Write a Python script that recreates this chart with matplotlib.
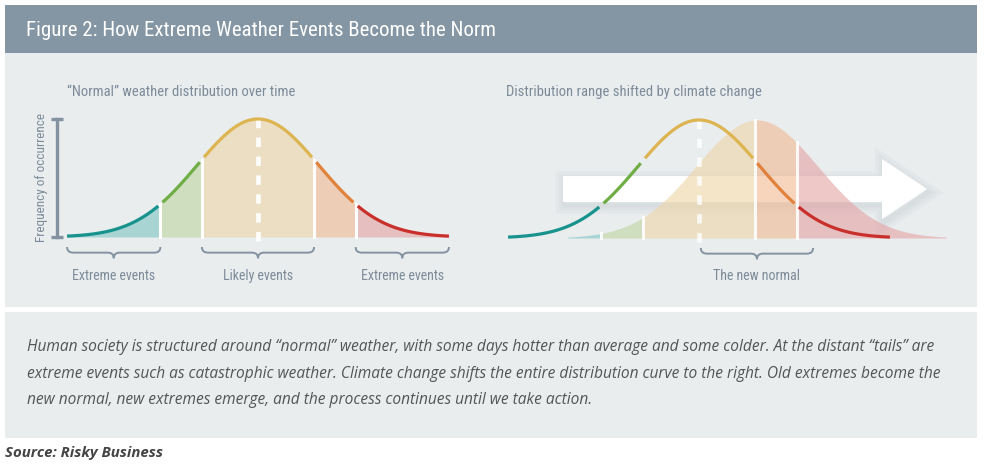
import numpy as np
import matplotlib
matplotlib.use('Agg')
import matplotlib.pyplot as plt
from matplotlib import font_manager as fm
from matplotlib.patches import Rectangle, FancyArrow, PathPatch
from matplotlib.path import Path

# segment edges of the "normal" distribution, in standard deviations
edges = [-3.13, -1.6, -0.92, 0.92, 1.6, 3.13]
line_colors = ['#17928c', '#6fae45', '#ddb450', '#e0813c', '#c9302c']
fill_colors = ['#7ec5c3', '#bcd4a0', '#eed5a6', '#f3b991', '#e4a2a3']
fill_alpha = 0.6
shift = 0.95        # climate change moves the whole curve (std devs)
shift_tail = 3.1    # extent of the shifted curve either side of its peak

left_braces = [(-3.13, -1.6), (-0.92, 0.92), (1.6, 3.13)]
left_brace_labels = ['Extreme events', 'Likely events', 'Extreme events']
new_normal = (shift - 0.92, shift + 0.92)
new_normal_label = 'The new normal'

title = 'Figure 2: How Extreme Weather Events Become the Norm'
left_title = '\u201cNormal\u201d weather distribution over time'
right_title = 'Distribution range shifted by climate change'
y_label = 'Frequency of occurrence'
body_lines = [
    'Human society is structured around \u201cnormal\u201d weather, with some days hotter than average and some colder. At the distant \u201ctails\u201d are',
    'extreme events such as catastrophic weather. Climate change shifts the entire distribution curve to the right. Old extremes become the',
    'new normal, new extremes emerge, and the process continues until we take action.',
]
source = 'Source: Risky Business'

BAR = '#8496a4'
PANEL = '#e9edee'
SLATE = '#7d8b99'

# pick a narrow face for the headline/label text if one is installed
avail = {(f.name, f.stretch) for f in fm.fontManager.ttflist}
names = {a[0] for a in avail}
narrow = {'family': 'DejaVu Sans'}
for n in ['Liberation Sans Narrow', 'Roboto Condensed', 'Open Sans Condensed', 'DejaVu Sans Condensed']:
    if n in names:
        narrow = {'family': n}
        break
else:
    if ('DejaVu Sans', 'condensed') in avail:
        narrow = {'family': 'DejaVu Sans', 'stretch': 'condensed'}

W, H = 986, 466
PX_X, PX_Y = 61.0, 118.0   # pixels per std dev / per unit of height

fig = plt.figure(figsize=(W / 100, H / 100), dpi=100)
fig.patch.set_facecolor('white')


def px_rect(x0, y0, x1, y1, color):
    fig.add_artist(Rectangle((x0 / W, 1 - y1 / H), (x1 - x0) / W, (y1 - y0) / H,
                             transform=fig.transFigure, facecolor=color,
                             edgecolor='none', zorder=0))


def ftext(x, y, s, **kw):
    fig.text(x / W, 1 - y / H, s, **kw)


def chart_axes(x0, x1, center, base):
    ax = fig.add_axes([x0 / W, 1 - 300 / H, (x1 - x0) / W, 240 / H])
    ax.set_xlim((x0 - center) / PX_X, (x1 - center) / PX_X)
    ax.set_ylim((base - 300) / PX_Y, (base - 60) / PX_Y)
    ax.axis('off')
    ax.patch.set_alpha(0)
    return ax


def pdf(x, mu=0.0):
    return np.exp(-0.5 * (x - mu) ** 2)


def brace(ax, a, b, top=-0.085, h=0.095, r=0.1):
    m = (a + b) / 2
    mid = top - h / 2
    tip = top - h
    verts = [(a, top), (a, mid), (a + r, mid), (m - r, mid), (m, mid), (m, tip),
             (m, mid), (m + r, mid), (b - r, mid), (b, mid), (b, top)]
    codes = [Path.MOVETO, Path.CURVE3, Path.CURVE3, Path.LINETO, Path.CURVE3, Path.CURVE3,
             Path.CURVE3, Path.CURVE3, Path.LINETO, Path.CURVE3, Path.CURVE3]
    ax.add_patch(PathPatch(Path(verts, codes), facecolor='none', edgecolor='#8592a0',
                           lw=1.4, clip_on=False, zorder=5))


def curve_lines(ax, gap=0.035):
    for i in range(5):
        a = edges[i] + (gap if i > 0 else 0)
        b = edges[i + 1] - (gap if i < 4 else 0)
        xs = np.linspace(a, b, 120)
        ax.plot(xs, pdf(xs), color=line_colors[i], lw=2.3, solid_capstyle='butt', zorder=6)


def center_dash(ax, alpha):
    ax.plot([0, 0], [-0.03, 1.05], color='white', lw=3.4, alpha=alpha,
            dashes=(2.0, 2.0), solid_capstyle='butt', zorder=5)


# backgrounds
px_rect(5, 5, 977, 53, BAR)
px_rect(5, 53, 977, 307, PANEL)
px_rect(5, 312, 977, 438, PANEL)

ftext(26, 30, title, color='white', fontsize=15, va='center', **narrow)

# ---------------- left chart ----------------
axl = chart_axes(5, 490, 258, 237)
for i in range(5):
    xs = np.linspace(edges[i], edges[i + 1], 120)
    axl.fill_between(xs, 0, pdf(xs), color=fill_colors[i], alpha=fill_alpha, lw=0, zorder=2)
for e in edges[1:-1]:
    axl.plot([e, e], [0, pdf(e)], color='white', lw=2.2, zorder=3)
center_dash(axl, 0.95)
curve_lines(axl)

yx = (57 - 258) / PX_X
axl.plot([yx, yx], [0, 1], color='#8391a0', lw=2.4, zorder=4)
axl.plot([yx, yx], [0, 1], ls='none', marker='_', ms=8, mew=2.4, color='#8391a0', zorder=4)
axl.text((41 - 258) / PX_X, 0.5, y_label, rotation=90, ha='center', va='center',
         color=SLATE, fontsize=9.5, **narrow)

for (a, b), lab in zip(left_braces, left_brace_labels):
    brace(axl, a, b)
    axl.text((a + b) / 2, -0.33, lab, ha='center', va='center', color=SLATE,
             fontsize=10, **narrow)

ftext(67, 92, left_title, color=SLATE, fontsize=10.5, va='center', **narrow)

# ---------------- right chart ----------------
axr = chart_axes(490, 977, 699, 238)

# arrow with a soft shadow, sitting behind the shifted curve
for w in [12, 7, 3]:
    axr.add_patch(FancyArrow(-2.23 + 0.02, 0.415 - 0.03, 5.97, 0, width=0.22, head_width=0.51,
                             head_length=0.74, length_includes_head=True, facecolor='none',
                             edgecolor='#9aa4ad', lw=w, alpha=0.07, zorder=1))
axr.add_patch(FancyArrow(-2.23, 0.415, 5.97, 0, width=0.22, head_width=0.51,
                         head_length=0.74, length_includes_head=True, facecolor='white',
                         edgecolor='none', zorder=1.5))

lo, hi = shift - shift_tail, shift + shift_tail
cuts = [lo] + [e for e in edges[1:-1]] + [hi]
for i in range(5):
    a, b = max(cuts[i], lo), cuts[i + 1]
    if b <= a:
        continue
    xs = np.linspace(a, b, 120)
    axr.fill_between(xs, 0, pdf(xs, shift), color=fill_colors[i], lw=0, alpha=fill_alpha, zorder=2)
for e in edges[1:-1]:
    axr.plot([e, e], [0, pdf(e, shift)], color='white', lw=2.2, alpha=0.9, zorder=3)
center_dash(axr, 0.8)
curve_lines(axr)

brace(axr, *new_normal)
axr.text(sum(new_normal) / 2, -0.32, new_normal_label, ha='center', va='center',
         color=SLATE, fontsize=10, **narrow)
ftext(506, 92, right_title, color=SLATE, fontsize=10.5, va='center', **narrow)

# ---------------- caption ----------------
for k, line in enumerate(body_lines):
    ftext(27, 347 + 26.5 * k, line, color='#555555', fontsize=11.2, style='italic',
          family='Open Sans', va='center')
ftext(5, 453, source, color='#444444', fontsize=10.8, style='italic', weight='bold',
      family='Open Sans', va='center')

fig.savefig('out.png', dpi=100, facecolor='white')
